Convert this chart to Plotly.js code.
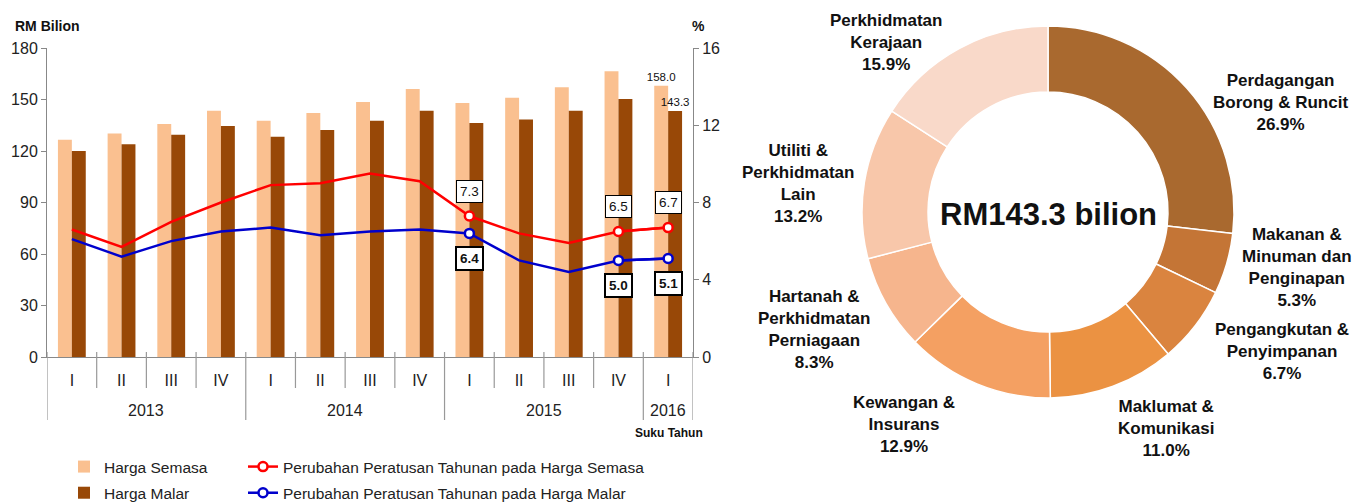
<!DOCTYPE html>
<html>
<head>
<meta charset="utf-8">
<script src="https://cdn.plot.ly/plotly-3.0.1.min.js"></script>
<style>html,body{margin:0;padding:0;background:#fff;}#chart{width:1359px;height:503px;}</style>
</head>
<body>
<div id="chart"></div>
<script>
// ---------- DATA ----------
const quarters = ['I','II','III','IV','I','II','III','IV','I','II','III','IV','I'];
const years = ['2013','2013','2013','2013','2014','2014','2014','2014','2015','2015','2015','2015','2016'];
const hargaSemasa = [126.5,130.2,135.7,143.4,137.6,142.1,148.5,156.1,147.9,151.0,157.2,166.4,158.0];
const hargaMalar  = [120.0,123.9,129.5,134.5,128.3,132.2,137.6,143.4,136.3,138.4,143.4,150.3,143.3];
const pctSemasa = [6.6,5.7,7.0,8.0,8.9,9.0,9.5,9.1,7.3,6.4,5.9,6.5,6.7];
const pctMalar  = [6.1,5.2,6.0,6.5,6.7,6.3,6.5,6.6,6.4,5.0,4.4,5.0,5.1];
const labelledPoints = [8, 11, 12];

const sectorLabels = [
  'Perdagangan<br>Borong & Runcit',
  'Makanan &<br>Minuman dan<br>Penginapan',
  'Pengangkutan &<br>Penyimpanan',
  'Maklumat &<br>Komunikasi',
  'Kewangan &<br>Insurans',
  'Hartanah &<br>Perkhidmatan<br>Perniagaan',
  'Utiliti &<br>Perkhidmatan<br>Lain',
  'Perkhidmatan<br>Kerajaan'
];
const sectorShares = [26.9,5.3,6.7,11.0,12.9,8.3,13.2,15.9];
const totalText = 'RM143.3 bilion';

// ---------- STYLE / LAYOUT CONSTANTS ----------
const W = 1359, H = 503;
const px = x => x / W;
const py = y => 1 - y / H;
const sectorColors = ['#A9692F','#C47536','#DA843F','#EB9242','#F4A062','#F6B58D','#F8C7AA','#F9D9C9'];
const sectorLabelPos = [[1280,102],[1297,267],[1282,351],[1166,428],[904,424],[814,329],[798,183],[886,43]];
const FONT = 'Liberation Sans, Arial, sans-serif';

const idx = quarters.map((q,i)=>i);
const n = idx.length;

const traces = [];
traces.push({
  type:'bar', x: idx, y: hargaSemasa, name:'Harga Semasa', yaxis:'y', xaxis:'x',
  marker:{color:'#FAC090'},
  text: hargaSemasa.map((v,i)=> i===n-1 ? v.toFixed(1) : ''),
  textposition:'outside', constraintext:'none', textfont:{size:11.5, color:'#111', family:FONT}, cliponaxis:false,
  legend:'legend', legendgroup:'a'
});
traces.push({
  type:'bar', x: idx, y: hargaMalar, name:'Harga Malar', yaxis:'y', xaxis:'x',
  marker:{color:'#984807'},
  text: hargaMalar.map((v,i)=> i===n-1 ? v.toFixed(1) : ''),
  textposition:'outside', constraintext:'none', textfont:{size:11.5, color:'#111', family:FONT}, cliponaxis:false,
  legend:'legend', legendgroup:'b'
});
// lines
const lineSeries = [
  {y:pctSemasa, color:'#FF0000', name:'Perubahan Peratusan Tahunan pada Harga Semasa', g:'c'},
  {y:pctMalar,  color:'#0000CC', name:'Perubahan Peratusan Tahunan pada Harga Malar', g:'d'}
];
lineSeries.forEach(s=>{
  traces.push({type:'scatter', mode:'lines', x: idx, y: s.y, yaxis:'y2', xaxis:'x',
    line:{color:s.color, width:2.5}, showlegend:false, hoverinfo:'skip'});
  traces.push({type:'scatter', mode:'lines+markers', x: idx,
    y: s.y.map((v,i)=> labelledPoints.includes(i) ? v : null), connectgaps:false,
    yaxis:'y2', xaxis:'x', name:s.name,
    line:{color:s.color, width:2.5},
    marker:{symbol:'circle', size:9, color:'#fff', line:{color:s.color, width:2.5}},
    legend:'legend2', legendgroup:s.g});
});
// donut
traces.push({
  type:'pie', values: sectorShares, labels: sectorLabels.map(s=>s.replace(/<br>/g,' ')),
  hole:0.645, sort:false, direction:'clockwise', rotation:0,
  marker:{colors: sectorColors, line:{color:'#fff', width:1.5}},
  textinfo:'none', showlegend:false,
  domain:{x:[px(1048-186), px(1048+186)], y:[py(212+186), py(212-186)]}
});

// shapes: separators at category boundaries
const shapes = [];
for (let i=0;i<=n;i++){
  const b = i-0.5;
  const isYear = (i===0 || i===n || years[i]!==years[i-1]);
  shapes.push({type:'line', xref:'x', yref:'paper', x0:b, x1:b,
    y0: py(352), y1: isYear ? py(420) : py(388),
    line:{color:'#999', width:1.2}});
}

const annotations = [];
const ann = (o)=>annotations.push(Object.assign({xref:'paper', yref:'paper', showarrow:false, xanchor:'center', yanchor:'middle'}, o));
// year labels
const uniqYears = [...new Set(years)];
uniqYears.forEach(yr=>{
  const first = years.indexOf(yr), last = years.lastIndexOf(yr);
  ann({xref:'x', x:(first+last)/2, y:py(410), text:yr, font:{size:16, color:'#222', family:FONT}});
});
// line point labels
labelledPoints.forEach(i=>{
  annotations.push({xref:'x', yref:'y2', x:i, y:pctSemasa[i], yshift:25, text:pctSemasa[i].toFixed(1),
    showarrow:false, xanchor:'center', yanchor:'middle', bgcolor:'#fff', bordercolor:'#000', borderwidth:1, borderpad:3,
    font:{size:13.5, color:'#111', family:FONT}});
  annotations.push({xref:'x', yref:'y2', x:i, y:pctMalar[i], yshift:-25, text:'<b>'+pctMalar[i].toFixed(1)+'</b>',
    showarrow:false, xanchor:'center', yanchor:'middle', bgcolor:'#fff', bordercolor:'#000', borderwidth:2, borderpad:3,
    font:{size:13.5, color:'#111', family:FONT}});
});
// axis titles
ann({x:px(13), y:py(26), xanchor:'left', text:'<b>RM Bilion</b>', font:{size:14, color:'#111', family:FONT}});
ann({x:px(698), y:py(26), text:'<b>%</b>', font:{size:14, color:'#111', family:FONT}});
ann({x:px(669), y:py(433), text:'<b>Suku Tahun</b>', font:{size:12, color:'#111', family:FONT}});
// donut labels
sectorLabels.forEach((lab,i)=>{
  ann({x:px(sectorLabelPos[i][0]), y:py(sectorLabelPos[i][1]),
    text:'<b>'+lab+'<br>'+sectorShares[i].toFixed(1)+'%</b>', align:'center',
    font:{size:17, color:'#111', family:FONT}});
});
ann({x:px(1048), y:py(214), text:'<b>'+totalText+'</b>', font:{size:31, color:'#111', family:FONT}});

const axisCommon = {showgrid:false, zeroline:false, showline:true, linecolor:'#888', linewidth:1,
  ticks:'outside', ticklen:5, tickcolor:'#888', tickfont:{size:16, color:'#222', family:FONT}, fixedrange:true};

const legendCommon = {xanchor:'left', yanchor:'bottom', y:-7/H, orientation:'v', traceorder:'grouped',
  tracegroupgap:3, font:{size:15.5, color:'#222', family:FONT}, bgcolor:'rgba(0,0,0,0)'};

const layout = {
  width:W, height:H, margin:{l:0,r:0,t:0,b:0, autoexpand:false}, paper_bgcolor:'#fff', plot_bgcolor:'rgba(0,0,0,0)',
  font:{family:FONT, color:'#222'},
  barmode:'group', bargap:0.44, bargroupgap:0,
  xaxis:{domain:[px(47), px(693)], range:[-0.5, n-0.5], tickmode:'array', tickvals:idx, ticktext:quarters,
    showgrid:false, zeroline:false, showline:true, linecolor:'#888', linewidth:1,
    ticks:'outside', ticklen:9, tickcolor:'rgba(0,0,0,0)', tickfont:{size:16, color:'#222', family:FONT}, fixedrange:true},
  yaxis:Object.assign({}, axisCommon, {domain:[py(357), py(48)], range:[0,180], dtick:30, anchor:'x'}),
  yaxis2:Object.assign({}, axisCommon, {overlaying:'y', side:'right', range:[0,16], dtick:4, anchor:'x'}),
  legend:Object.assign({}, legendCommon, {x:px(64)}),
  legend2:Object.assign({}, legendCommon, {x:px(243)}),
  shapes:shapes, annotations:annotations
};

Plotly.newPlot('chart', traces, layout, {displayModeBar:false, staticPlot:true});
</script>
</body>
</html>
